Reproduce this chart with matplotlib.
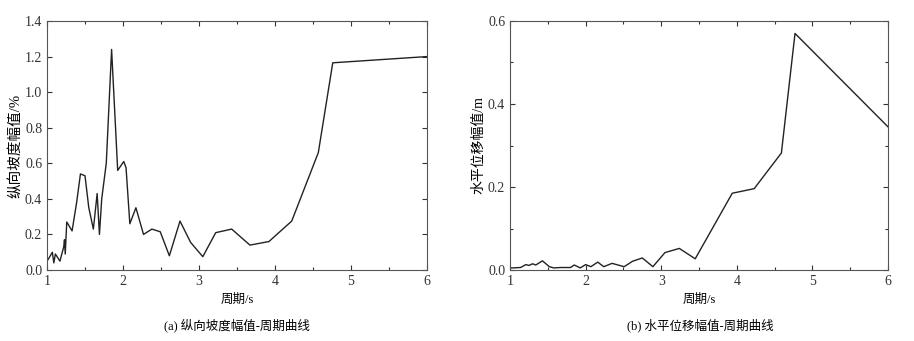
import matplotlib
matplotlib.use("Agg")
import matplotlib.pyplot as plt
from matplotlib.ticker import MultipleLocator, FormatStrFormatter

# Data
period_a = [1.0, 1.03, 1.07, 1.09, 1.11, 1.17, 1.22, 1.23, 1.24, 1.26, 1.33, 1.39, 1.44, 1.50,
            1.55, 1.61, 1.66, 1.69, 1.72, 1.78, 1.85, 1.93, 2.01, 2.04, 2.09, 2.17, 2.27, 2.38,
            2.49, 2.61, 2.75, 2.89, 3.05, 3.22, 3.43, 3.67, 3.92, 4.22, 4.57, 4.76, 6.0]
slope_amp = [0.05, 0.07, 0.10, 0.04, 0.09, 0.05, 0.13, 0.17, 0.09, 0.27, 0.22, 0.38, 0.54, 0.53,
             0.35, 0.23, 0.43, 0.20, 0.40, 0.60, 1.24, 0.56, 0.61, 0.575, 0.26, 0.35, 0.20, 0.23,
             0.215, 0.08, 0.275, 0.155, 0.075, 0.21, 0.23, 0.14, 0.16, 0.275, 0.66, 1.165, 1.20]

period_b = [1.0, 1.03, 1.14, 1.21, 1.25, 1.30, 1.34, 1.43, 1.52, 1.58, 1.67, 1.80, 1.85, 1.93,
            2.00, 2.07, 2.16, 2.24, 2.35, 2.51, 2.62, 2.75, 2.89, 3.05, 3.24, 3.45, 3.94, 4.23,
            4.59, 4.77, 6.0]
disp_amp = [0.005, 0.005, 0.006, 0.013, 0.011, 0.015, 0.012, 0.022, 0.008, 0.005, 0.006, 0.006,
            0.012, 0.005, 0.013, 0.008, 0.019, 0.008, 0.016, 0.008, 0.021, 0.029, 0.008, 0.042,
            0.052, 0.027, 0.185, 0.196, 0.282, 0.570, 0.345]

xlabel = "周期/s"
ylabel_a = "纵向坡度幅值/%"
ylabel_b = "水平位移幅值/m"
caption_a = "(a) 纵向坡度幅值-周期曲线"
caption_b = "(b) 水平位移幅值-周期曲线"

serif = ["Liberation Serif", "DejaVu Serif"]
cjk = ["Liberation Serif", "Noto Sans CJK SC", "DejaVu Sans"]

fig = plt.figure(figsize=(9.14, 3.41), dpi=100)
W, H = 914, 341

def make_ax(l, r, t, b):
    return fig.add_axes([l / W, 1 - b / H, (r - l) / W, (b - t) / H])

ax1 = make_ax(47, 427, 21, 270)
ax2 = make_ax(510, 888, 21, 270)

ax1.plot(period_a, slope_amp, color="#222222", lw=1.0)
ax2.plot(period_b, disp_amp, color="#222222", lw=1.0)

ax1.set_xlim(1, 6)
ax1.set_ylim(0, 1.4)
ax1.yaxis.set_major_locator(MultipleLocator(0.2))
ax2.set_xlim(1, 6)
ax2.set_ylim(0, 0.6)
ax2.yaxis.set_major_locator(MultipleLocator(0.2))
ax2.yaxis.set_minor_locator(MultipleLocator(0.1))

for ax in (ax1, ax2):
    ax.xaxis.set_major_locator(MultipleLocator(1))
    ax.xaxis.set_minor_locator(MultipleLocator(0.5))
    ax.yaxis.set_major_formatter(FormatStrFormatter("%.1f"))
    ax.tick_params(which="both", direction="in", top=True, right=True,
                   labelsize=10, colors="#333333", width=0.8)
    ax.tick_params(which="major", length=3.5)
    ax.tick_params(which="minor", length=2.5)
    for s in ax.spines.values():
        s.set_color("#555555")
        s.set_linewidth(0.8)
    for lab in ax.get_xticklabels() + ax.get_yticklabels():
        lab.set_fontfamily(serif)
    ax.set_xlabel(xlabel, fontsize=9, family=cjk, labelpad=4)

ax1.set_ylabel(ylabel_a, fontsize=10.5, family=cjk, labelpad=2, fontweight="medium")
ax2.set_ylabel(ylabel_b, fontsize=10, family=cjk, labelpad=2, fontweight="medium")

fig.text(237 / W, 1 - 325 / H, caption_a, ha="center", va="center", fontsize=9, family=cjk)
fig.text(700 / W, 1 - 325 / H, caption_b, ha="center", va="center", fontsize=9, family=cjk)

fig.savefig("out.png", dpi=100, facecolor="white")
